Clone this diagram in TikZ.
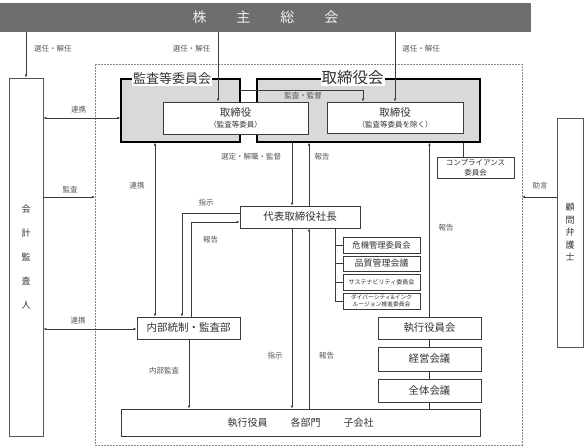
\documentclass[tikz,border=0pt]{standalone}
\usepackage{fontspec}
\setmainfont{Noto Sans CJK JP}
\usetikzlibrary{arrows.meta}
\definecolor{bannerc}{HTML}{6E6E6E}
\definecolor{boxgray}{HTML}{D9D9D9}
\definecolor{linec}{HTML}{3A3A3A}
\definecolor{labc}{HTML}{555555}
\definecolor{txtc}{HTML}{333333}
\definecolor{dashc}{HTML}{888888}
\newcommand{\fsz}[2]{\fontsize{#1}{#2}\selectfont}
\begin{document}
\begin{tikzpicture}[x=1pt,y=-1pt,
  wbox/.style={draw=linec, line width=0.8pt, fill=white, text=txtc, inner sep=0pt, align=center},
  gbox/.style={draw=black, line width=1.3pt, fill=boxgray, inner sep=0pt},
  ttl/.style={fill=white, inner sep=1pt, text=txtc},
  lab/.style={text=labc, font=\fsz{7.5}{9}, inner sep=0pt},
  conn/.style={draw=linec, line width=0.8pt},
  arr/.style={conn, -{Latex[length=3pt,width=2.6pt]}},
  darr/.style={conn, {Latex[length=3pt,width=2.6pt]}-{Latex[length=3pt,width=2.6pt]}}]
\useasboundingbox (0,0) rectangle (584,447);
\fill[white] (0,0) rectangle (584,447);
% dashed company boundary
\draw[dashc, line width=0.7pt, dash pattern=on 2pt off 1pt] (95,64) rectangle (522,445);
% banner
\node[fill=bannerc, minimum width=531pt, minimum height=29.5pt, inner sep=0pt, text=white!88!gray, font=\fsz{14}{16}] (sh) at (265.5,17.25) {株\hspace{30pt}主\hspace{30pt}総\hspace{30pt}会};
% side boxes
\node[wbox, draw=labc, minimum width=34pt, minimum height=358pt, font=\fsz{9}{24}] (kaikei) at (26,257) {会\\計\\監\\査\\人};
\node[wbox, draw=labc, minimum width=26pt, minimum height=229pt, font=\fsz{9}{12.5}] (komon) at (570,232.5) {顧\\問\\弁\\護\\士};
% gray boards
\node[gbox, minimum width=119pt, minimum height=63pt] (kansa) at (180.5,110.5) {};
\node[gbox, minimum width=223pt, minimum height=63pt] (torikai) at (368.5,110.5) {};
\node[ttl, font=\fsz{13}{14}] (kansaT) at (172,79) {監査等委員会};
\node[ttl, font=\fsz{15.5}{16}] (torikaiT) at (352.5,78) {取締役会};
% directors
\node[wbox, minimum width=145pt, minimum height=32pt, font=\fsz{10.5}{11}] (tk1) at (235.5,118) {取締役\\{\fsz{7.5}{9}（監査等委員）}};
\node[wbox, minimum width=136pt, minimum height=31pt, font=\fsz{10.5}{11}] (tk2) at (395,117.5) {取締役\\{\fsz{7.5}{9}（監査等委員を除く）}};
% executive structure
\node[wbox, minimum width=120pt, minimum height=22pt, font=\fsz{10.5}{12}] (daihyo) at (300,217) {代表取締役社長};
\node[wbox, minimum width=103pt, minimum height=22pt, font=\fsz{10.5}{12}] (naibu) at (188.5,328) {内部統制・監査部};
\node[wbox, minimum width=359pt, minimum height=27pt, font=\fsz{10}{12}] (shikko) at (300.5,422.5) {執行役員\hspace{23pt}各部門\hspace{23pt}子会社};
\node[wbox, minimum width=77pt, minimum height=21pt, font=\fsz{7.5}{10}] (comp) at (475.5,167.5) {コンプライアンス\\委員会};
\node[wbox, minimum width=77pt, minimum height=16pt, font=\fsz{8.3}{9}] (c1) at (381.5,245) {危機管理委員会};
\node[wbox, minimum width=77pt, minimum height=15pt, font=\fsz{9}{10}] (c2) at (381.5,263.5) {品質管理会議};
\node[wbox, minimum width=77pt, minimum height=16pt, font=\fsz{6}{7}] (c3) at (381.5,282) {サステナビリティ委員会};
\node[wbox, minimum width=77pt, minimum height=16pt, font=\fsz{5.8}{7}] (c4) at (381.5,301) {ダイバーシティ\&インク\\ルージョン推進委員会};
\node[wbox, minimum width=103pt, minimum height=22pt, font=\fsz{10.4}{12}] (yakuin) at (429.5,328) {執行役員会};
\node[wbox, minimum width=103pt, minimum height=24pt, font=\fsz{10.4}{12}] (keiei) at (429.5,359) {経営会議};
\node[wbox, minimum width=103pt, minimum height=23pt, font=\fsz{10.4}{12}] (zentai) at (429.5,390.5) {全体会議};
% helper coordinates
\coordinate (xa) at (218,0);
\coordinate (ya) at (0,118);
\coordinate (dl) at (95,197);
\coordinate (yb) at (0,329);
\coordinate (xb) at (155,0);
\coordinate (yc) at (363,90);
\coordinate (xd) at (292,0);
\coordinate (xe) at (309,0);
\coordinate (cf) at (182,213);
\coordinate (cg) at (191,222);
\coordinate (xh) at (189,0);
\coordinate (xi) at (335,0);
\coordinate (xj) at (463,0);
\coordinate (dr) at (522,197);
% connectors
\draw[arr] (sh.south -| kaikei.north) -- (kaikei.north);
\draw[arr] (sh.south -| xa) -- (tk1.north -| xa);
\draw[arr] (sh.south -| tk2.north) -- (tk2.north);
\draw[darr] (kaikei.east |- ya) -- (kansa.west |- ya);
\draw[arr] (kaikei.east |- dl) -- (dl);
\draw[darr] (kaikei.east |- yb) -- (naibu.west |- yb);
\draw[darr] (kansa.south -| xb) -- (naibu.north -| xb);
\draw[arr] (kansa.east |- yc) -- (yc) -- (tk2.north -| yc);
\draw[arr] (torikai.south -| xd) -- (daihyo.north -| xd);
\draw[arr] (daihyo.north -| xe) -- (torikai.south -| xe);
\draw[arr] (daihyo.west |- cf) -- (cf) -- (naibu.north -| cf);
\draw[arr] (naibu.north -| cg) -- (cg) -- (daihyo.west |- cg);
\draw[arr] (naibu.south -| xh) -- (shikko.north -| xh);
\draw[arr] (daihyo.south -| xd) -- (shikko.north -| xd);
\draw[arr] (shikko.north -| xe) -- (daihyo.south -| xe);
\draw[conn] (daihyo.south -| xi) -- (xi |- c4.west) -- (c4.west);
\draw[conn] (xi |- c1.west) -- (c1.west);
\draw[conn] (xi |- c2.west) -- (c2.west);
\draw[conn] (xi |- c3.west) -- (c3.west);
\draw[conn] (torikai.south -| xj) -- (comp.north -| xj);
\draw[arr] (yakuin.north) -- (torikai.south -| yakuin.north);
\draw[conn] (yakuin.south) -- (keiei.north);
\draw[conn] (keiei.south) -- (zentai.north);
\draw[conn] (zentai.south) -- (shikko.north -| zentai.south);
\draw[arr] (komon.west |- dr) -- (dr);
% labels
\node[lab] (l1) at (53,49) {選任・解任};
\node[lab] (l2) at (191.5,49) {選任・解任};
\node[lab] (l3) at (421,49) {選任・解任};
\node[lab] (l4) at (78.5,110) {連携};
\node[lab] (l5) at (70,190) {監査};
\node[lab] (l6) at (78,321) {連携};
\node[lab] (l7) at (137,186) {連携};
\node[lab] (l8) at (303,96) {監査・監督};
\node[lab] (l9) at (251,157) {選定・解職・監督};
\node[lab] (l10) at (322,157) {報告};
\node[lab] (l11) at (206,203) {指示};
\node[lab] (l12) at (210.5,240) {報告};
\node[lab] (l13) at (164,371) {内部監査};
\node[lab] (l14) at (275,356) {指示};
\node[lab] (l15) at (326.5,356) {報告};
\node[lab] (l16) at (446,228) {報告};
\node[lab] (l17) at (540,186) {助言};
\end{tikzpicture}
\end{document}
